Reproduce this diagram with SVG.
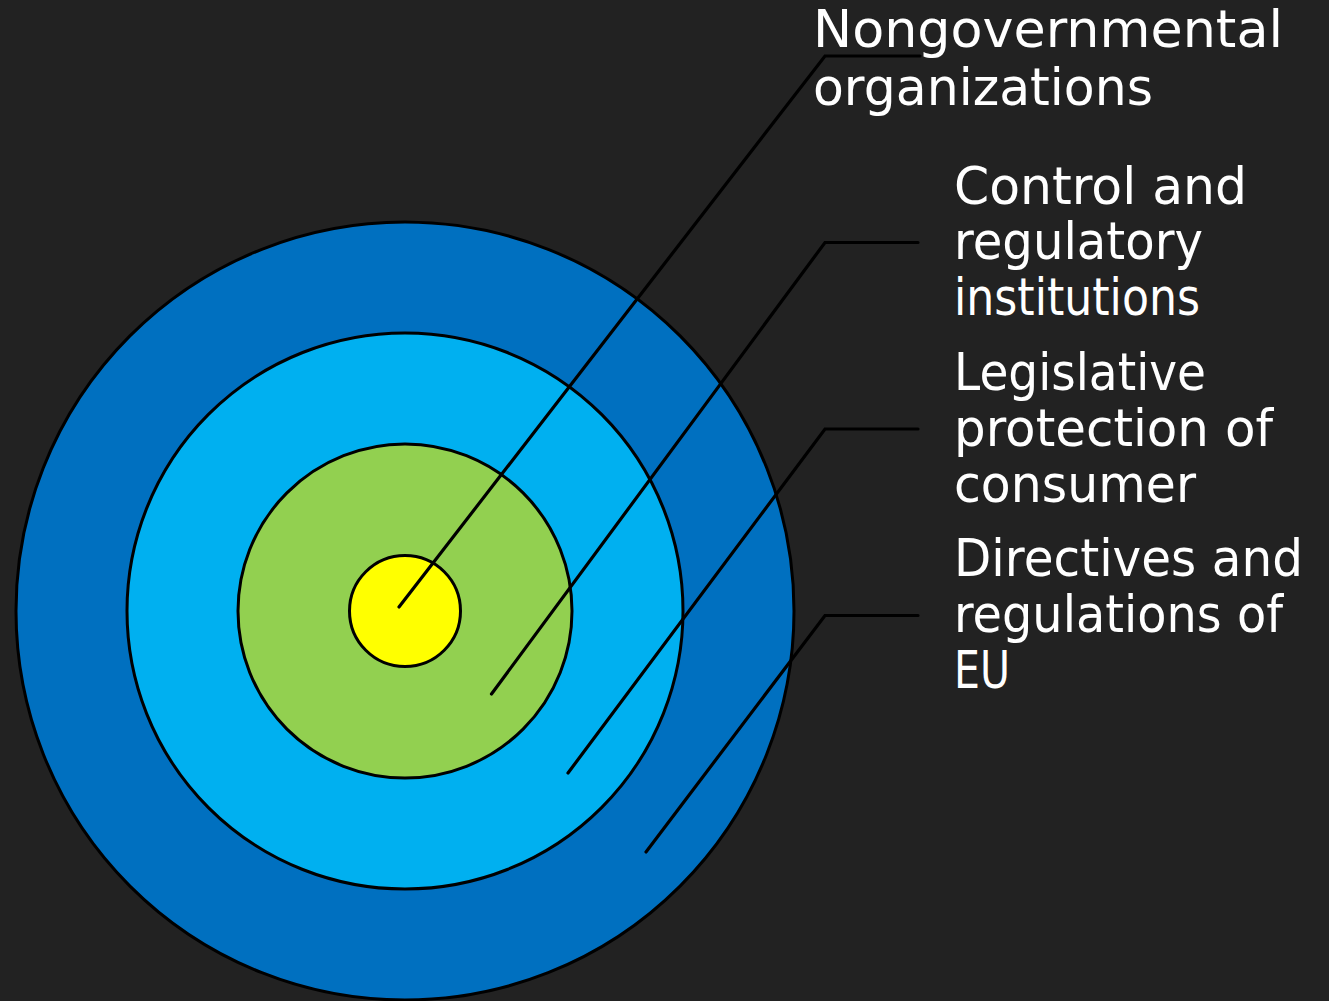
<svg xmlns="http://www.w3.org/2000/svg" width="1329" height="1001" viewBox="0 0 1329 1001">
<style>
.ring{stroke:#000;stroke-width:3}
.conn{fill:none;stroke:#000;stroke-width:3.2;stroke-linecap:round;stroke-linejoin:miter}
.lbl{font-family:"DejaVu Sans","Liberation Sans",sans-serif;font-size:51px;fill:#fff}
</style>
<rect width="1329" height="1001" fill="#222222"/>
<g id="ring-eu"><circle class="ring" cx="405" cy="611" r="389" fill="#0070C0"/></g>
<g id="ring-legislative"><circle class="ring" cx="405" cy="611" r="278" fill="#00B0F0"/></g>
<g id="ring-control"><circle class="ring" cx="405" cy="611" r="167" fill="#92D050"/></g>
<g id="ring-ngo"><circle class="ring" cx="405" cy="611" r="55.5" fill="#FFFF00"/></g>
<g id="connectors">
<polyline class="conn" points="399,607 825,56 920,56"/>
<polyline class="conn" points="491.5,694 825,242.5 918,242.5"/>
<polyline class="conn" points="568,773 825,429 918,429"/>
<polyline class="conn" points="646,852 825,615.5 918,615.5"/>
</g>
<g id="label-ngo">
<text class="lbl" x="813" y="47" textLength="470" lengthAdjust="spacingAndGlyphs">Nongovernmental</text>
<text class="lbl" x="813" y="105" textLength="340" lengthAdjust="spacingAndGlyphs">organizations</text>
</g>
<g id="label-control">
<text class="lbl" x="954" y="204" textLength="293" lengthAdjust="spacingAndGlyphs">Control and</text>
<text class="lbl" x="954" y="259" textLength="249" lengthAdjust="spacingAndGlyphs">regulatory</text>
<text class="lbl" x="954" y="315" textLength="246" lengthAdjust="spacingAndGlyphs">institutions</text>
</g>
<g id="label-legislative">
<text class="lbl" x="954" y="390" textLength="252" lengthAdjust="spacingAndGlyphs">Legislative</text>
<text class="lbl" x="954" y="446" textLength="319" lengthAdjust="spacingAndGlyphs">protection of</text>
<text class="lbl" x="954" y="502" textLength="242" lengthAdjust="spacingAndGlyphs">consumer</text>
</g>
<g id="label-eu">
<text class="lbl" x="954" y="576" textLength="349" lengthAdjust="spacingAndGlyphs">Directives and</text>
<text class="lbl" x="954" y="632" textLength="329" lengthAdjust="spacingAndGlyphs">regulations of</text>
<text class="lbl" x="954" y="688" textLength="56" lengthAdjust="spacingAndGlyphs">EU</text>
</g>
</svg>
